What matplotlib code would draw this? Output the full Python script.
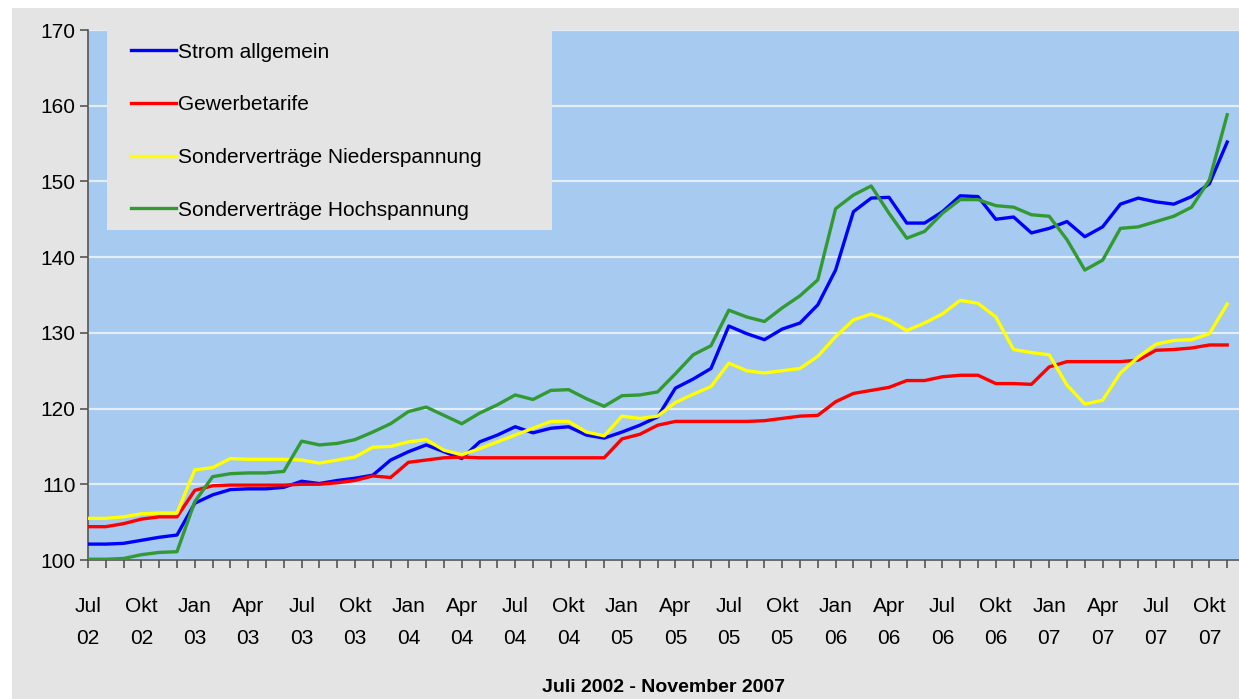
import numpy as np
import matplotlib.pyplot as plt
from matplotlib.patches import Rectangle

plt.rcParams['font.family'] = ['Liberation Sans', 'DejaVu Sans']

# monthly index values, Juli 2002 - November 2007 (65 months)
strom_allgemein = [102.1, 102.1, 102.2, 102.6, 103.0, 103.3, 107.5, 108.6, 109.3, 109.4,
                   109.4, 109.6, 110.4, 110.1, 110.5, 110.8, 111.2, 113.2, 114.3, 115.2,
                   114.3, 113.4, 115.6, 116.5, 117.6, 116.8, 117.4, 117.6, 116.5, 116.1,
                   116.9, 117.8, 118.9, 122.7, 123.9, 125.3, 130.9, 129.9, 129.1, 130.5,
                   131.3, 133.7, 138.3, 146.0, 147.8, 147.9, 144.5, 144.5, 146.0, 148.1,
                   148.0, 145.0, 145.3, 143.2, 143.8, 144.7, 142.7, 144.0, 147.0, 147.8,
                   147.3, 147.0, 148.0, 149.7, 155.2]
gewerbetarife = [104.4, 104.4, 104.8, 105.4, 105.7, 105.7, 109.2, 109.8, 109.9, 109.9,
                 109.9, 109.9, 110.0, 110.0, 110.2, 110.5, 111.1, 110.9, 112.9, 113.2,
                 113.5, 113.6, 113.5, 113.5, 113.5, 113.5, 113.5, 113.5, 113.5, 113.5,
                 116.0, 116.6, 117.8, 118.3, 118.3, 118.3, 118.3, 118.3, 118.4, 118.7,
                 119.0, 119.1, 120.9, 122.0, 122.4, 122.8, 123.7, 123.7, 124.2, 124.4,
                 124.4, 123.3, 123.3, 123.2, 125.5, 126.2, 126.2, 126.2, 126.2, 126.4,
                 127.7, 127.8, 128.0, 128.4, 128.4]
sonder_nieder = [105.5, 105.5, 105.7, 106.1, 106.2, 106.2, 111.9, 112.2, 113.4, 113.3,
                 113.3, 113.3, 113.2, 112.8, 113.2, 113.6, 114.9, 115.0, 115.6, 115.9,
                 114.5, 113.9, 114.7, 115.6, 116.5, 117.4, 118.3, 118.3, 116.9, 116.4,
                 119.0, 118.7, 119.0, 120.8, 121.9, 122.9, 126.0, 125.0, 124.7, 125.0,
                 125.3, 126.9, 129.5, 131.7, 132.5, 131.7, 130.3, 131.3, 132.5, 134.3,
                 133.9, 132.1, 127.8, 127.4, 127.1, 123.1, 120.6, 121.1, 124.7, 126.8,
                 128.5, 129.0, 129.1, 129.9, 133.8]
sonder_hoch = [100.1, 100.1, 100.2, 100.7, 101.0, 101.1, 107.7, 111.0, 111.4, 111.5,
               111.5, 111.7, 115.7, 115.2, 115.4, 115.9, 116.9, 118.0, 119.6, 120.2,
               119.1, 118.0, 119.4, 120.5, 121.8, 121.2, 122.4, 122.5, 121.3, 120.3,
               121.7, 121.8, 122.2, 124.6, 127.1, 128.3, 133.0, 132.1, 131.5, 133.3,
               134.9, 137.0, 146.4, 148.2, 149.4, 145.8, 142.5, 143.4, 145.8, 147.6,
               147.6, 146.8, 146.6, 145.6, 145.4, 142.3, 138.3, 139.6, 143.8, 144.0,
               144.7, 145.4, 146.6, 150.2, 158.8]

series_names = ['Strom allgemein', 'Gewerbetarife',
                'Sonderverträge Niederspannung', 'Sonderverträge Hochspannung']
series_colors = ['#0000ff', '#ff0000', '#ffff00', '#339933']

tick_labels = ['Jul\n02', 'Okt\n02', 'Jan\n03', 'Apr\n03', 'Jul\n03', 'Okt\n03',
               'Jan\n04', 'Apr\n04', 'Jul\n04', 'Okt\n04', 'Jan\n05', 'Apr\n05',
               'Jul\n05', 'Okt\n05', 'Jan\n06', 'Apr\n06', 'Jul\n06', 'Okt\n06',
               'Jan\n07', 'Apr\n07', 'Jul\n07', 'Okt\n07']

fig = plt.figure(figsize=(12.39, 6.99), dpi=100, facecolor='white')
# gray chart panel behind everything
fig.patches.append(Rectangle((12 / 1239, 0), 1, (699 - 8) / 699, transform=fig.transFigure,
                             facecolor='#e4e4e4', edgecolor='none', zorder=-10))

ax = fig.add_axes([88 / 1239, 1 - 560 / 699, 1 - 88 / 1239, 530 / 699])
ax.set_facecolor('#a6caf0')

months = np.arange(len(strom_allgemein))
for vals, name, col in zip([strom_allgemein, gewerbetarife, sonder_nieder, sonder_hoch],
                           series_names, series_colors):
    ax.plot(months, vals, color=col, lw=2.4, label=name, zorder=3)

ax.set_ylim(100, 170)
ax.set_xlim(0, (1239 - 88) / 17.8)
ax.set_yticks(np.arange(100, 171, 10))
ax.yaxis.grid(True, color='#e4eef8', lw=1.6)
ax.set_axisbelow(True)

ax.set_xticks(months[::3])
ax.set_xticklabels(tick_labels, linespacing=1.8)
ax.set_xticks(months, minor=True)
ax.tick_params(axis='x', which='both', direction='out', length=6, width=1.2,
               color='#555555', labelsize=15, pad=21)
ax.tick_params(axis='y', direction='out', length=6, width=1.2, color='#555555',
               labelsize=15, pad=3)

for s in ['top', 'right']:
    ax.spines[s].set_visible(False)
for s in ['left', 'bottom']:
    ax.spines[s].set_color('#555555')
    ax.spines[s].set_linewidth(1.2)

ax.set_xlabel('Juli 2002 - November 2007', fontsize=14, fontweight='bold', labelpad=23)

# legend box
ax.add_patch(Rectangle(((107 - 88) / (1239 - 88), (560 - 230) / 530),
                       (552 - 107) / (1239 - 88), 200 / 530, transform=ax.transAxes,
                       facecolor='#e4e4e4', edgecolor='none', zorder=4))
leg = ax.legend(loc='upper left', bbox_to_anchor=((118 - 88) / (1239 - 88), 1.0),
                frameon=False, fontsize=15, handlelength=2.2, handletextpad=0.1,
                labelspacing=1.62, borderaxespad=0.2)
leg.set_zorder(5)
for line in leg.get_lines():
    line.set_linewidth(2.4)

fig.savefig('out.png', dpi=100, facecolor=fig.get_facecolor())
